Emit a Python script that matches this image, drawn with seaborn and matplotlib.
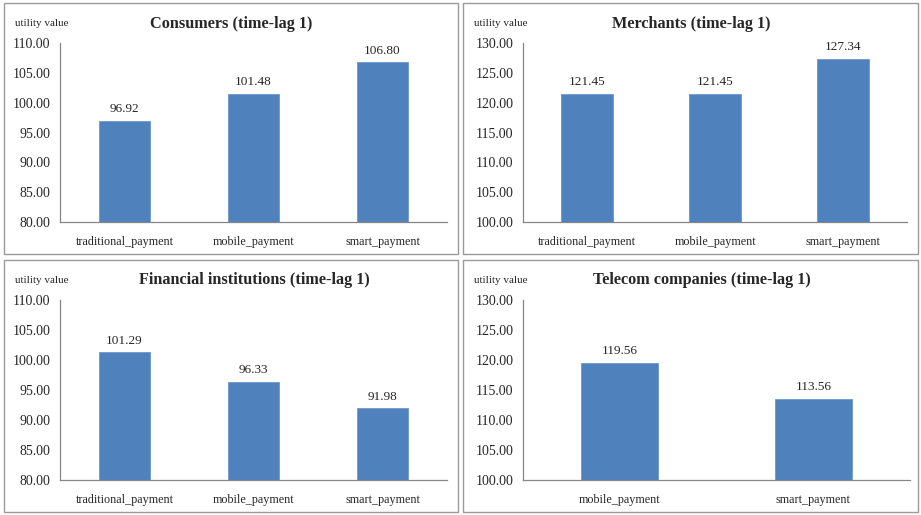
import matplotlib
matplotlib.use("Agg")
import matplotlib.pyplot as plt
import matplotlib.patches as patches
import seaborn as sns
import pandas as pd

# data
consumer_cats = ["traditional_payment", "mobile_payment", "smart_payment"]
consumer_vals = [96.92, 101.48, 106.80]

merchant_cats = ["traditional_payment", "mobile_payment", "smart_payment"]
merchant_vals = [121.45, 121.45, 127.34]

finance_cats = ["traditional_payment", "mobile_payment", "smart_payment"]
finance_vals = [101.29, 96.33, 91.98]

telecom_cats = ["mobile_payment", "smart_payment"]
telecom_vals = [119.56, 113.56]

sns.set_style("white")
plt.rcParams["font.family"] = ["Liberation Serif", "DejaVu Serif"]

bar_color = "#4F81BD"
axis_color = "#868686"

fig = plt.figure(figsize=(9.21, 5.15), dpi=100)

# panel layout: (title, cats, vals, ylim, axes rect, box rect, title x)
panels = [
    ("Consumers (time-lag 1)", consumer_cats, consumer_vals, (80, 110),
     [0.0651, 0.5689, 0.4202, 0.3476], [0.004, 0.506, 0.493, 0.488], 0.251),
    ("Merchants (time-lag 1)", merchant_cats, merchant_vals, (100, 130),
     [0.5679, 0.5689, 0.4169, 0.3476], [0.503, 0.506, 0.494, 0.488], 0.751),
    ("Financial institutions (time-lag 1)", finance_cats, finance_vals, (80, 110),
     [0.0651, 0.068, 0.4202, 0.3495], [0.004, 0.006, 0.493, 0.490], 0.276),
    ("Telecom companies (time-lag 1)", telecom_cats, telecom_vals, (100, 130),
     [0.5679, 0.068, 0.4202, 0.3495], [0.503, 0.006, 0.494, 0.490], 0.762),
]

for title, cats, vals, ylim, rect, box, tx in panels:
    # grey frame around each panel
    fig.patches.append(patches.Rectangle((box[0], box[1]), box[2], box[3],
                                         transform=fig.transFigure, fill=False,
                                         edgecolor="#9a9a9a", linewidth=1.0))
    ax = fig.add_axes(rect)
    df = pd.DataFrame({"cat": cats, "val": vals})
    sns.barplot(data=df, x="cat", y="val", color=bar_color, width=0.4,
                saturation=1, edgecolor="#6d97c9", linewidth=0.6, ax=ax)
    ax.set_ylim(*ylim)
    ax.set_xlim(-0.5, len(cats) - 0.5)
    ax.set_yticks(range(ylim[0], ylim[1] + 1, 5))
    ax.set_yticklabels([f"{v:.2f}" for v in range(ylim[0], ylim[1] + 1, 5)], fontsize=10)
    ax.set_xticks(range(len(cats)))
    ax.set_xticklabels(cats, fontsize=8.7)
    ax.set_xticks([i - 0.5 for i in range(len(cats) + 1)], minor=True)
    ax.tick_params(axis="x", which="major", length=0, pad=10)
    ax.tick_params(axis="x", which="minor", length=4, color=axis_color, direction="out")
    ax.tick_params(axis="y", length=4, color=axis_color, direction="out", pad=3)
    ax.set_xlabel("")
    ax.set_ylabel("")
    for s in ["top", "right"]:
        ax.spines[s].set_visible(False)
    for s in ["left", "bottom"]:
        ax.spines[s].set_color(axis_color)
        ax.spines[s].set_linewidth(0.9)
    for i, v in enumerate(vals):
        ax.annotate(f"{v:.2f}", (i, v), xytext=(0, 4), textcoords="offset points",
                    ha="center", va="bottom", fontsize=9.5)
    fig.text(tx, box[1] + box[3] - 0.04, title,
             ha="center", va="center", fontsize=11.7, fontweight="bold")
    fig.text(box[0] + 0.012, box[1] + box[3] - 0.04, "utility value",
             ha="left", va="center", fontsize=8)

fig.savefig("out.png", dpi=100, facecolor="white")
